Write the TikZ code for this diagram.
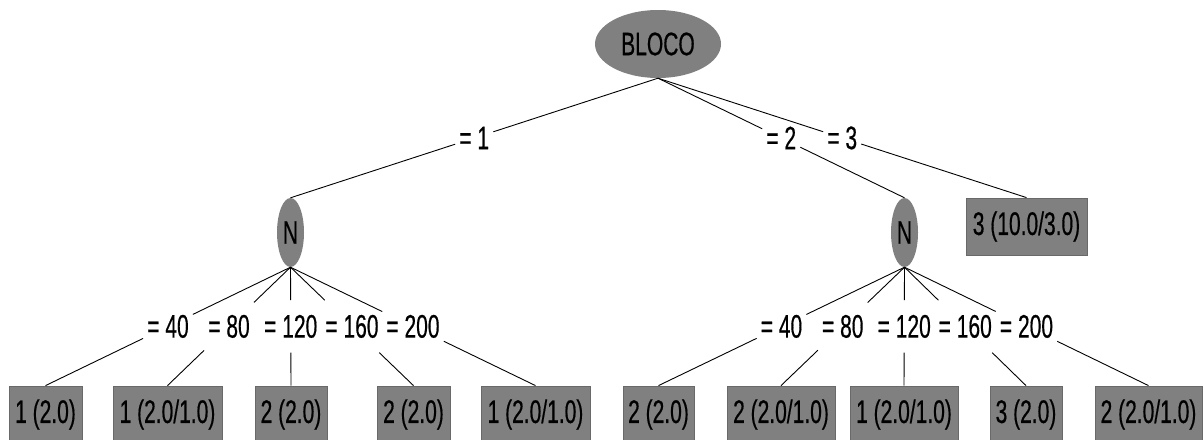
\documentclass[tikz,border=0pt]{standalone}
\usepackage{fontspec}
\setmainfont{Liberation Sans}
\newfontfamily\wfont{Liberation Sans}[FakeBold=0.6]
\usetikzlibrary{shapes.geometric,calc}
\definecolor{wgray}{RGB}{128,128,128}
\definecolor{wborder}{RGB}{105,105,105}
\newcommand{\wtxt}[1]{\scalebox{1}[1.55]{\wfont\fontsize{21}{21}\selectfont #1}}
\newcommand{\wconnect}[4]{%
  \node[lbl] (#3) at ($(#1.south)!0.5!(#2.north)$) {\wtxt{#4}};
  \draw[conn] (#1.south) -- (#3) -- (#2.north);}
\begin{document}
\begin{tikzpicture}[x=1pt,y=-1pt,
  innode/.style={ellipse, fill=wgray, inner sep=0pt},
  leafbox/.style={rectangle, fill=wgray, draw=wborder, line width=0.8pt, minimum height=57pt, inner sep=1pt},
  lbl/.style={rectangle, inner xsep=4pt, inner ysep=0pt, minimum height=52pt},
  conn/.style={draw=black, line width=0.9pt}]
\useasboundingbox (0,0) rectangle (1204,439);
\clip (0,0) rectangle (1204,439);
% inner nodes
\node[innode, minimum width=126pt, minimum height=68pt] (root) at (658,44) {\wtxt{BLOCO}};
\node[innode, minimum width=27pt, minimum height=69pt] (nL) at (290.5,232.5) {\wtxt{N}};
\node[innode, minimum width=27pt, minimum height=69pt] (nR) at (904.5,232.5) {\wtxt{N}};
% leaves
\node[leafbox, minimum width=121pt] (t3) at (1026.5,226.5) {\wtxt{3 (10.0/3.0)}};
\node[leafbox, minimum width=73pt]  (l1) at (45.5,414.5)  {\wtxt{1 (2.0)}};
\node[leafbox, minimum width=109pt] (l2) at (167.5,414.5) {\wtxt{1 (2.0/1.0)}};
\node[leafbox, minimum width=72pt]  (l3) at (291,414.5)   {\wtxt{2 (2.0)}};
\node[leafbox, minimum width=73pt]  (l4) at (413.5,414.5) {\wtxt{2 (2.0)}};
\node[leafbox, minimum width=109pt] (l5) at (535.5,414.5) {\wtxt{1 (2.0/1.0)}};
\node[leafbox, minimum width=71pt]  (r1) at (658.5,414.5) {\wtxt{2 (2.0)}};
\node[leafbox, minimum width=108pt] (r2) at (781,414.5)   {\wtxt{2 (2.0/1.0)}};
\node[leafbox, minimum width=108pt] (r3) at (904,414.5)   {\wtxt{1 (2.0/1.0)}};
\node[leafbox, minimum width=72pt]  (r4) at (1026,414.5)  {\wtxt{3 (2.0)}};
\node[leafbox, minimum width=107pt] (r5) at (1148.5,414.5) {\wtxt{2 (2.0/1.0)}};
% connectors with labels
\wconnect{root}{nL}{e1}{= 1}
\wconnect{root}{nR}{e2}{= 2}
\wconnect{root}{t3}{e3}{= 3}
\wconnect{nL}{l1}{a1}{= 40}
\wconnect{nL}{l2}{a2}{= 80}
\wconnect{nL}{l3}{a3}{= 120}
\wconnect{nL}{l4}{a4}{= 160}
\wconnect{nL}{l5}{a5}{= 200}
\wconnect{nR}{r1}{b1}{= 40}
\wconnect{nR}{r2}{b2}{= 80}
\wconnect{nR}{r3}{b3}{= 120}
\wconnect{nR}{r4}{b4}{= 160}
\wconnect{nR}{r5}{b5}{= 200}
\end{tikzpicture}
\end{document}
